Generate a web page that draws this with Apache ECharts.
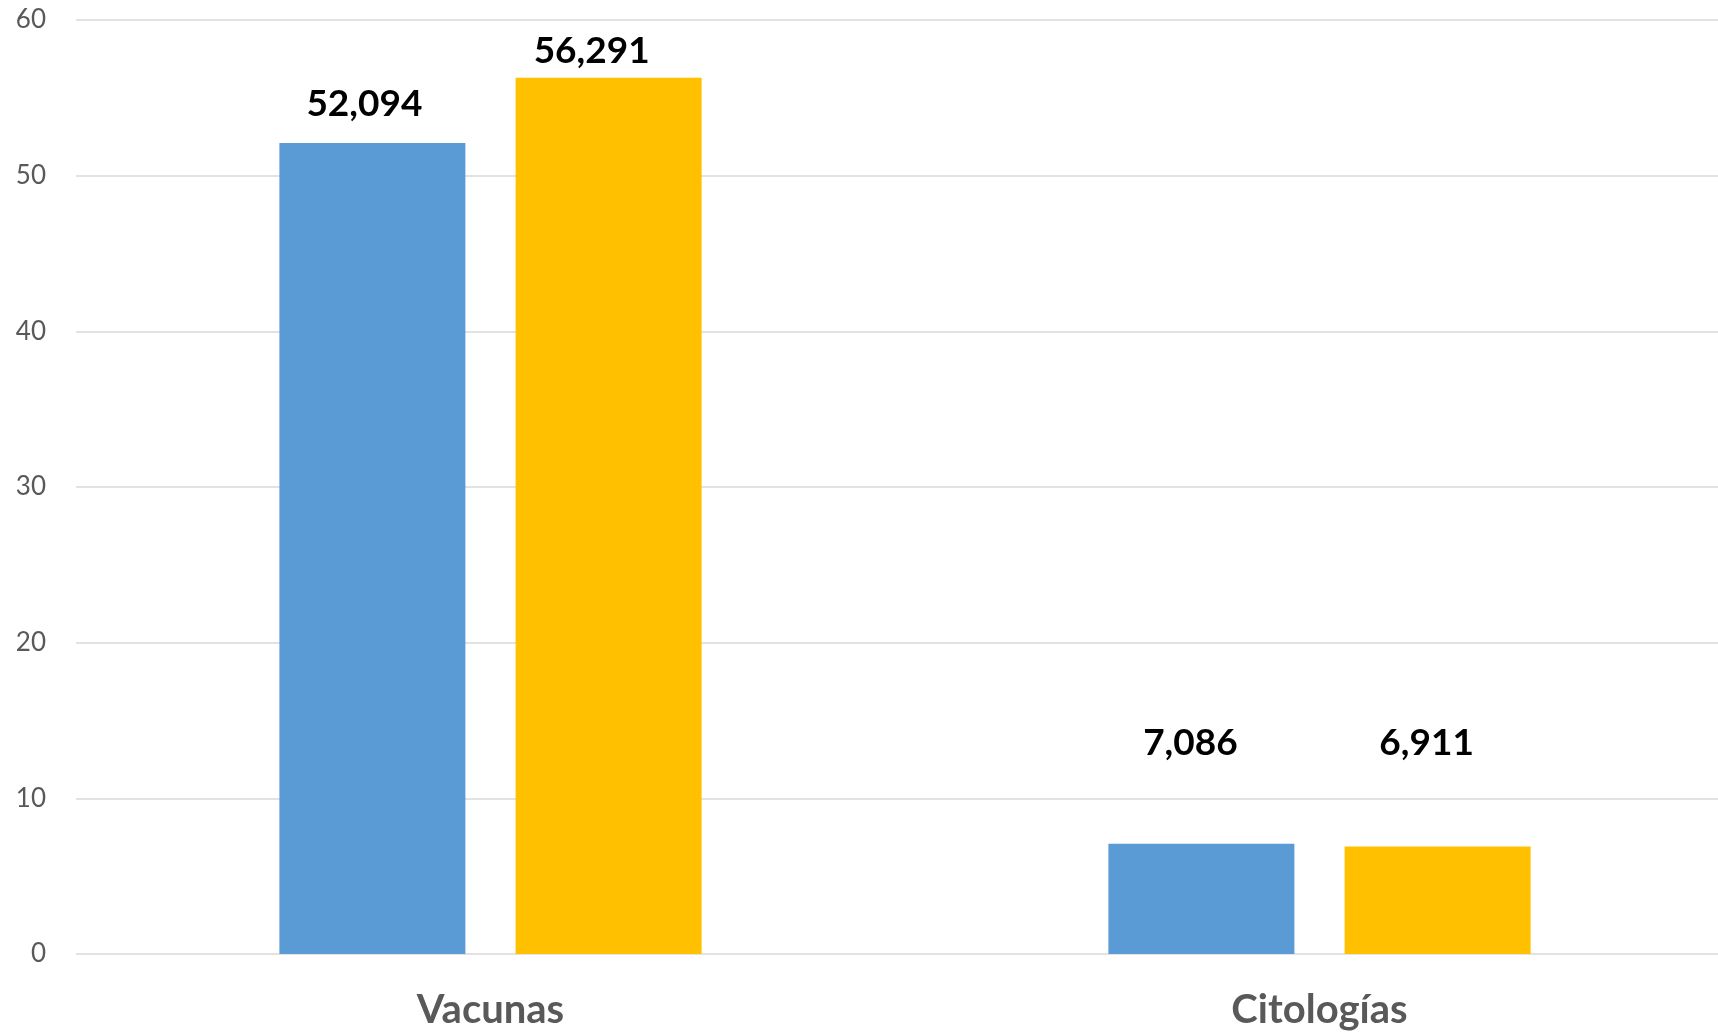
<!DOCTYPE html>
<html>
<head>
<meta charset="utf-8">
<script src="https://cdn.jsdelivr.net/npm/echarts@6/dist/echarts.min.js"></script>
<style>
html,body{margin:0;padding:0;background:#fff;overflow:hidden;}
#chart{width:1734px;height:1033px;}
</style>
</head>
<body>
<div id="chart"></div>
<script>
const categories = ['Vacunas', 'Citologías'];
const seriesA = [52.094, 7.086];
const seriesB = [56.291, 6.911];
const yTicks = [0, 10, 20, 30, 40, 50, 60];

// label nudges (presentation only)
const offsA = [[-8, -21], [-11, -82]];
const offsB = [[-17, -8], [-11, -85]];

const fmt = v => v.toFixed(3).replace('.', ',');
const FONT = 'Lato, "Open Sans", sans-serif';

function mk(vals, offs) {
  return vals.map((v, i) => ({ value: v, label: { offset: offs[i] } }));
}

const chart = echarts.init(document.getElementById('chart'));
chart.setOption({
  animation: false,
  backgroundColor: '#ffffff',
  grid: { left: 76, right: 0, top: 20, bottom: 79 },
  xAxis: {
    type: 'category',
    data: categories,
    axisLine: { show: false },
    axisTick: { show: false },
    axisLabel: { color: '#595959', fontSize: 40, fontWeight: 'bold', fontFamily: FONT, margin: 36 }
  },
  yAxis: {
    type: 'value',
    min: yTicks[0],
    max: yTicks[yTicks.length - 1],
    interval: 10,
    axisLine: { show: false },
    axisTick: { show: false },
    axisLabel: { color: '#595959', fontSize: 26, fontFamily: FONT, margin: 30 },
    splitLine: { lineStyle: { color: '#d9d9d9', width: 1.5 } }
  },
  series: [
    {
      type: 'bar',
      name: 'A',
      data: mk(seriesA, offsA),
      barWidth: 186,
      barGap: '27%',
      itemStyle: { color: '#5B9BD5' },
      label: { show: true, position: 'top', distance: 0, formatter: p => fmt(p.value), color: '#000', fontSize: 37, fontWeight: 'bold', fontFamily: FONT }
    },
    {
      type: 'bar',
      name: 'B',
      data: mk(seriesB, offsB),
      barWidth: 186,
      itemStyle: { color: '#FFC000' },
      label: { show: true, position: 'top', distance: 0, formatter: p => fmt(p.value), color: '#000', fontSize: 37, fontWeight: 'bold', fontFamily: FONT }
    }
  ]
});
</script>
</body>
</html>
